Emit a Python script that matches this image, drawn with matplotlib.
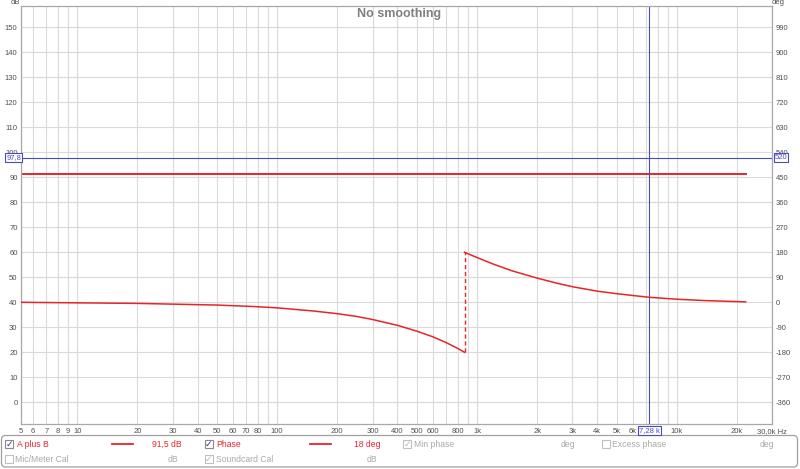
import matplotlib
matplotlib.use('Agg')
import matplotlib.pyplot as plt
from matplotlib.transforms import blended_transform_factory
from matplotlib.patches import FancyBboxPatch, Rectangle

plt.rcParams['font.family'] = ['Liberation Sans', 'DejaVu Sans']

# ---------------- data ----------------
spl_freq = [5.23, 22050]
spl_db = [91.5, 91.5]

phase_freq_low = [5.23, 10, 20, 50, 75, 100, 150, 200, 250, 300, 400, 500, 600, 700, 800, 866]
phase_deg_low = [0, -2, -4, -10, -15, -20, -31, -41, -51, -62, -83, -104, -124, -145, -166, -180]

wrap_freq = [866, 866]
wrap_deg = [-180, 180]

phase_freq_high = [866, 1000, 1200, 1500, 2000, 2500, 3000, 4000, 5000, 6000, 7280, 10000, 14000, 20000, 22050]
phase_deg_high = [180, 161, 138, 113, 87, 69, 56, 40, 31, 24.5, 18, 11, 6, 2.5, 1.5]

cursor_freq = 7280
cursor_db = 97.8

db_ticks = list(range(0, 151, 10))
deg_ticks = list(range(-360, 991, 90))
x_labels = {5.23: '5', 6: '6', 7: '7', 8: '8', 9: '9', 10: '10', 20: '20', 30: '30', 40: '40',
            50: '50', 60: '60', 70: '70', 80: '80', 100: '100', 200: '200', 300: '300',
            400: '400', 500: '500', 600: '600', 800: '800', 1000: '1k', 2000: '2k',
            3000: '3k', 4000: '4k', 5000: '5k', 6000: '6k', 10000: '10k', 20000: '20k',
            30000: '30,0k Hz'}

# ---------------- layout ----------------
W, H = 800, 469
L, R, T, B = 21, 772.3, 6, 424.3
fig = plt.figure(figsize=(W / 100, H / 100), dpi=100)
fig.patch.set_facecolor('white')
ax = fig.add_axes([L / W, 1 - B / H, (R - L) / W, (B - T) / H])

YMIN, YMAX = -8.8, 158.5
ax.set_xscale('log')
ax.set_xlim(5.23, 30000)
ax.set_ylim(YMIN, YMAX)

grid_freqs = [5.23] + [k * 10 ** d for d in range(0, 5) for k in range(1, 10)
                       if 5.23 < k * 10 ** d <= 30000]
ax.set_xticks(grid_freqs)
ax.set_xticklabels([x_labels.get(f, '') for f in grid_freqs])
ax.xaxis.set_minor_locator(matplotlib.ticker.NullLocator())
ax.set_yticks(db_ticks)
ax.set_yticklabels([str(v) for v in db_ticks])
ax.grid(True, color='#dadada', linewidth=0.8)
ax.set_axisbelow(True)

tick_col = '#505050'
ax.tick_params(axis='both', which='both', length=0, labelsize=5.5, labelcolor=tick_col)
ax.tick_params(axis='y', pad=2.5)
ax.tick_params(axis='x', pad=2.5)
for s in ax.spines.values():
    s.set_color('#a8a8a8')
    s.set_linewidth(0.9)

ax2 = ax.twinx()
ax2.set_ylim((YMIN - 40) * 9, (YMAX - 40) * 9)
ax2.set_yticks(deg_ticks)
ax2.set_yticklabels([str(v) for v in deg_ticks])
ax2.tick_params(axis='y', length=0, labelsize=5.5, labelcolor=tick_col, pad=2.5)
for s in ax2.spines.values():
    s.set_visible(False)

red = '#e8242a'
ax.plot(spl_freq, spl_db, color=red, linewidth=1.4)
ax2.plot(phase_freq_low, phase_deg_low, color=red, linewidth=1.1)
ax2.plot(wrap_freq, wrap_deg, color=red, linewidth=1.0, linestyle=(0, (3, 2)))
ax2.plot(phase_freq_high, phase_deg_high, color=red, linewidth=1.1)

# cursor
blue = '#4a4ac8'
ax.axhline(cursor_db, color=blue, linewidth=0.8)
ax.axvline(cursor_freq, color=blue, linewidth=0.8)

# ---------------- overlay: texts & legend panel ----------------
ov = fig.add_axes([0, 0, 1, 1])
ov.set_xlim(0, W)
ov.set_ylim(H, 0)
ov.axis('off')
ov.patch.set_alpha(0)

box = dict(boxstyle='square,pad=0.15', fc='white', ec=blue, lw=0.8)
yb = blended_transform_factory(fig.transFigure, ax.transData)
ov.text(13.6 / W, cursor_db, '97,8', transform=yb, ha='center', va='center',
        fontsize=5.5, color=blue, bbox=box, zorder=10)
ov.text(781 / W, cursor_db, '520', transform=yb, ha='center', va='center',
        fontsize=5.5, color=blue, bbox=box, zorder=10)
xb = blended_transform_factory(ax.transData, fig.transFigure)
ov.text(cursor_freq, 1 - 430.8 / H, '7,28 k', transform=xb, ha='center', va='center',
        fontsize=5.5, color=blue, bbox=box, zorder=10)

ov.text(399.5, 14, 'No smoothing', ha='center', va='center', fontsize=9,
        fontweight='bold', color='#808080')
ov.text(15, 3, 'dB', ha='center', va='center', fontsize=5.5, color=tick_col)
ov.text(778, 3, 'deg', ha='center', va='center', fontsize=5.5, color=tick_col)

ov.add_patch(FancyBboxPatch((1.5, 435.5), 796, 31.5,
                            boxstyle='round,pad=0,rounding_size=4',
                            fc='white', ec='#a0a0a0', lw=0.9))

gray = '#a8a8a8'
leg_fs = 6.2


def checkbox(x, y, checked, active):
    ec = '#8a8a8a' if active else '#c0c0c0'
    ov.add_patch(Rectangle((x - 4, y - 4), 8, 8, fc='white', ec=ec, lw=0.8))
    if checked:
        ov.text(x + 0.3, y + 0.3, '\u2713', ha='center', va='center',
                fontsize=6.5, color='#2a3a8a' if active else '#b8b8b8',
                family='DejaVu Sans')


r1, r2 = 444.3, 459.3
checkbox(9, r1, True, True)
ov.text(17, r1, 'A plus B', ha='left', va='center', fontsize=leg_fs, color=red)
ov.plot([111.5, 132.5], [r1, r1], color=red, lw=1.3)
ov.text(151.5, r1, '91,5 dB', ha='left', va='center', fontsize=leg_fs, color=red)
checkbox(208.5, r1, True, True)
ov.text(216, r1, 'Phase', ha='left', va='center', fontsize=leg_fs, color=red)
ov.plot([309.5, 331], [r1, r1], color=red, lw=1.3)
ov.text(354, r1, '18 deg', ha='left', va='center', fontsize=leg_fs, color=red)
checkbox(407, r1, True, False)
ov.text(414, r1, 'Min phase', ha='left', va='center', fontsize=leg_fs, color=gray)
ov.text(568, r1, 'deg', ha='center', va='center', fontsize=leg_fs, color=gray)
checkbox(606, r1, False, False)
ov.text(612.5, r1, 'Excess phase', ha='left', va='center', fontsize=leg_fs, color=gray)
ov.text(767, r1, 'deg', ha='center', va='center', fontsize=leg_fs, color=gray)

checkbox(9, r2, False, False)
ov.text(15, r2, 'Mic/Meter Cal', ha='left', va='center', fontsize=leg_fs, color=gray)
ov.text(173, r2, 'dB', ha='center', va='center', fontsize=leg_fs, color=gray)
checkbox(208.5, r2, True, False)
ov.text(216, r2, 'Soundcard Cal', ha='left', va='center', fontsize=leg_fs, color=gray)
ov.text(372, r2, 'dB', ha='center', va='center', fontsize=leg_fs, color=gray)

fig.savefig('out.png', dpi=100, facecolor='white')
